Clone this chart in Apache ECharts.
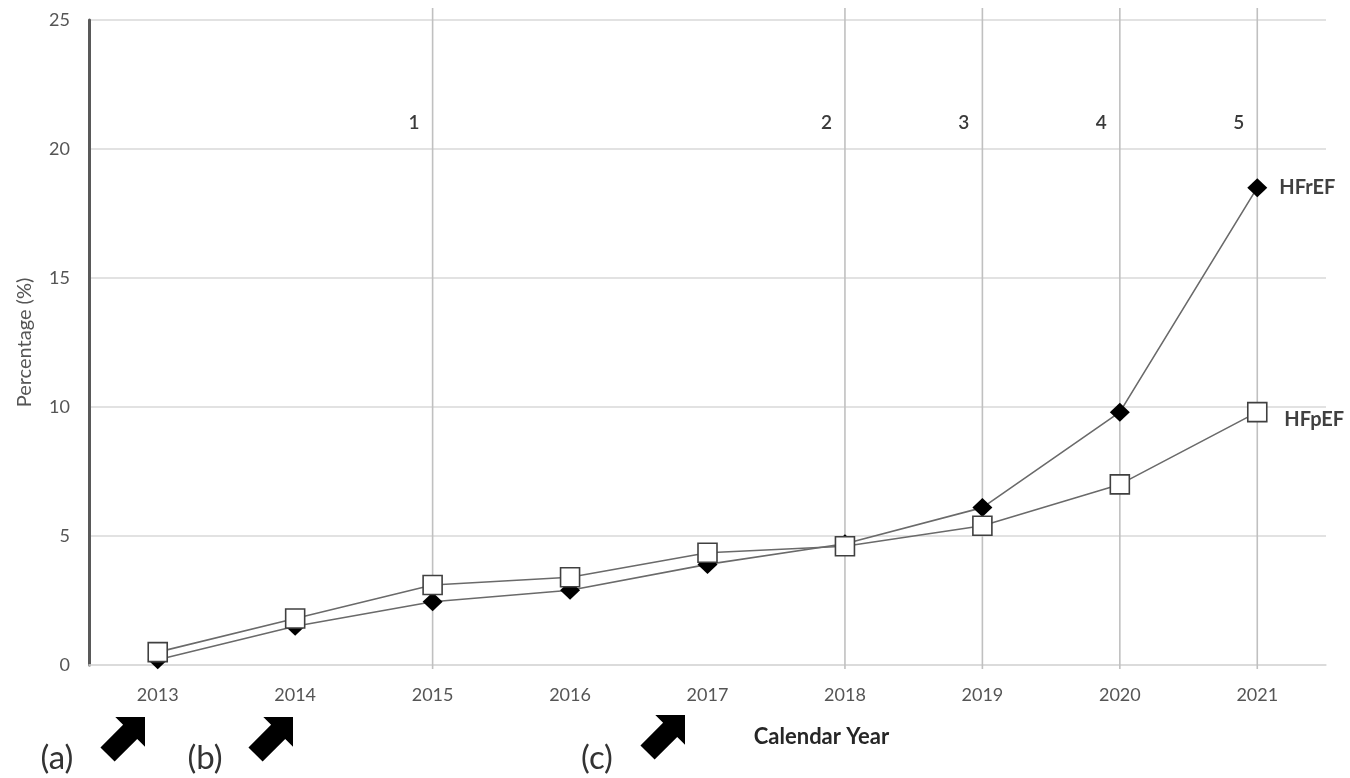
<!DOCTYPE html>
<html>
<head>
<meta charset="utf-8">
<title>HFrEF / HFpEF by calendar year</title>
<script src="https://cdn.jsdelivr.net/npm/echarts@6/dist/echarts.min.js"></script>
<style>
  html, body { margin: 0; padding: 0; background: #ffffff; }
  #chart { width: 1350px; height: 778px; }
</style>
</head>
<body>
<div id="chart"></div>
<script>
// Calendar years on the category axis
const years = ['2013', '2014', '2015', '2016', '2017', '2018', '2019', '2020', '2021'];

// Percentage per year for each heart-failure group
const hfrefValues = [0.2, 1.5, 2.45, 2.9, 3.9, 4.7, 6.1, 9.8, 18.5];
const hfpefValues = [0.5, 1.8, 3.1, 3.4, 4.35, 4.6, 5.4, 7.0, 9.8];

// Years marked with a numbered vertical reference line
const milestoneYears = ['2015', '2018', '2019', '2020', '2021'];
const milestoneLabels = ['1', '2', '3', '4', '5'];

// Y-axis ticks
const yMin = 0;
const yMax = 25;
const yStep = 5;

// Event markers below the axis
const eventTexts = ['(a)', '(b)', '(c)'];

const FONT = "Lato, 'Open Sans', sans-serif";
const chart = echarts.init(document.getElementById('chart'), null, { renderer: 'canvas' });

// Block arrow pointing up-right, built around its tip
function arrowPoints(tx, ty) {
  const d = [Math.SQRT1_2, -Math.SQRT1_2];   // along the arrow
  const n = [Math.SQRT1_2, Math.SQRT1_2];    // across the arrow
  const local = [[0, 0], [-21, 21], [-21, 10], [-53, 10], [-53, -10], [-21, -10], [-21, -21]];
  return local.map(([a, p]) => [tx + a * d[0] + p * n[0], ty + a * d[1] + p * n[1]]);
}

const option = {
  backgroundColor: '#ffffff',
  animation: false,
  grid: { left: 89, right: 24, top: 20, bottom: 113, containLabel: false },
  xAxis: {
    type: 'category',
    data: years,
    boundaryGap: true,
    name: 'Calendar Year',
    nameLocation: 'middle',
    nameGap: 61,
    nameTextStyle: { fontFamily: FONT, fontSize: 22, fontWeight: 'bold', color: '#262626', padding: [0, 0, 0, 228] },
    axisLine: { show: true, lineStyle: { color: '#d9d9d9', width: 1.5 } },
    axisTick: { show: false },
    axisLabel: { fontFamily: FONT, fontSize: 18, color: '#555555', margin: 21 },
    splitLine: { show: false }
  },
  yAxis: {
    type: 'value',
    min: yMin,
    max: yMax,
    interval: yStep,
    name: 'Percentage (%)',
    nameLocation: 'middle',
    nameGap: 54,
    nameTextStyle: { fontFamily: FONT, fontSize: 20, color: '#555555' },
    axisLine: { show: true, lineStyle: { color: '#595959', width: 3 } },
    axisTick: { show: false },
    axisLabel: { fontFamily: FONT, fontSize: 18, color: '#555555', margin: 19 },
    splitLine: { show: true, lineStyle: { color: '#d9d9d9', width: 1.5 } }
  },
  series: [
    {
      // Numbered vertical reference lines
      type: 'custom',
      name: 'milestones',
      clip: false,
      z: 1,
      silent: true,
      data: milestoneYears.map(y => [y]),
      encode: { x: 0 },
      renderItem: function (params, api) {
        const top = api.coord([api.value(0), yMax]);
        const bottom = api.coord([api.value(0), yMin]);
        const labelPos = api.coord([api.value(0), 21]);
        return {
          type: 'group',
          children: [
            {
              type: 'line',
              shape: { x1: top[0], y1: top[1] - 12, x2: bottom[0], y2: bottom[1] + 4 },
              style: { stroke: '#c0c0c0', lineWidth: 1.6 }
            },
            {
              type: 'text',
              x: top[0] - 13,
              y: labelPos[1],
              style: {
                text: milestoneLabels[params.dataIndex],
                fontFamily: FONT,
                fontSize: 19,
                fontWeight: 600,
                fill: '#3a3a3a',
                align: 'right',
                verticalAlign: 'middle'
              }
            }
          ]
        };
      }
    },
    {
      type: 'line',
      name: 'HFrEF',
      data: hfrefValues,
      z: 3,
      symbol: 'diamond',
      symbolSize: [20, 19],
      showSymbol: true,
      lineStyle: { color: '#6a6a6a', width: 1.6 },
      itemStyle: { color: '#000000', borderColor: '#000000', borderWidth: 0 },
      endLabel: {
        show: true,
        formatter: '{a}',
        distance: 22,
        fontFamily: FONT,
        fontSize: 20,
        fontWeight: 'bold',
        color: '#404040'
      },
      emphasis: { disabled: true }
    },
    {
      type: 'line',
      name: 'HFpEF',
      data: hfpefValues,
      z: 4,
      symbol: 'rect',
      symbolSize: 19,
      showSymbol: true,
      lineStyle: { color: '#6a6a6a', width: 1.6 },
      itemStyle: { color: '#ffffff', borderColor: '#404040', borderWidth: 1.6 },
      endLabel: {
        show: true,
        formatter: '{a}',
        distance: 27,
        offset: [0, 7],
        fontFamily: FONT,
        fontSize: 20,
        fontWeight: 'bold',
        color: '#404040'
      },
      emphasis: { disabled: true }
    }
  ]
};

chart.setOption(option);

// Event annotations below the year axis: label text plus an arrow aimed at a year
const eventLayout = [
  { text: eventTexts[0], textX: 57, tip: [145, 717] },
  { text: eventTexts[1], textX: 205, tip: [293, 717] },
  { text: eventTexts[2], textX: 597, tip: [685, 715] }
];
const graphics = [];
eventLayout.forEach(ev => {
  graphics.push({
    type: 'polygon',
    shape: { points: arrowPoints(ev.tip[0], ev.tip[1]) },
    style: { fill: '#000000' },
    silent: true
  });
  graphics.push({
    type: 'text',
    x: ev.textX,
    y: 758,
    style: {
      text: ev.text,
      fontFamily: FONT,
      fontSize: 33,
      fill: '#333333',
      align: 'center',
      verticalAlign: 'middle'
    },
    silent: true
  });
});
chart.setOption({ graphic: graphics });
</script>
</body>
</html>
